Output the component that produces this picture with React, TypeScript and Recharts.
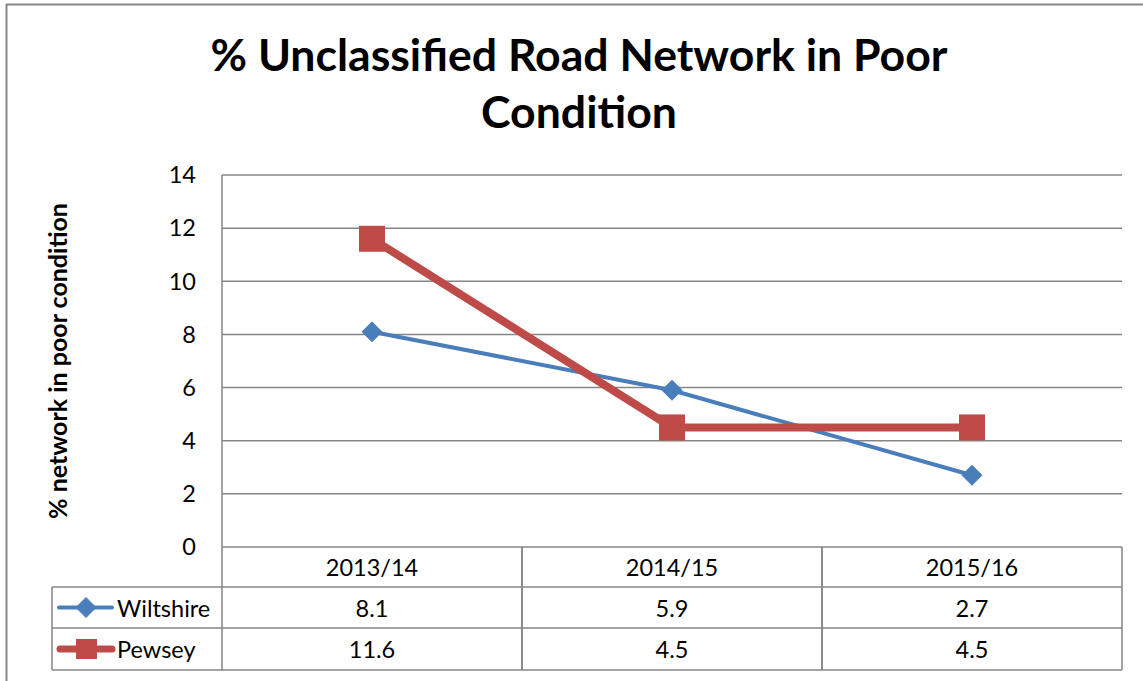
import React from "react";
import { LineChart, Line, XAxis, YAxis, CartesianGrid } from "recharts";

const categories = ["2013/14", "2014/15", "2015/16"];
const wiltshire = [8.1, 5.9, 2.7];
const pewsey = [11.6, 4.5, 4.5];
const yTicks = [0, 2, 4, 6, 8, 10, 12, 14];
const seriesNames = ["Wiltshire", "Pewsey"];
const titleLines = ["% Unclassified Road Network in Poor", "Condition"];
const yLabel = "% network in poor condition";

const data = categories.map((c, i) => ({ cat: c, wiltshire: wiltshire[i], pewsey: pewsey[i] }));

const W = 1143;
const H = 681;
const PLOT_L = 222;
const PLOT_R = 1122;
const PLOT_T = 175;
const PLOT_B = 547;
const COL_W = (PLOT_R - PLOT_L) / categories.length;
const ROW1 = 587;
const ROW2 = 628;
const ROW3 = 670;
const LEG_L = 52;
const FONT = "Lato, 'Open Sans', sans-serif";
const GRID = "#868686";
const BLUE = "#4A7EBB";
const RED = "#BE4B48";
const FS = 23.5;

const Diamond = (props: any) => {
  const { cx, cy } = props;
  if (cx == null || cy == null) return null;
  const r = 10;
  return (
    <polygon
      points={`${cx},${cy - r} ${cx + r},${cy} ${cx},${cy + r} ${cx - r},${cy}`}
      fill={BLUE}
      stroke={BLUE}
      strokeWidth={1}
    />
  );
};

const Square = (props: any) => {
  const { cx, cy } = props;
  if (cx == null || cy == null) return null;
  const s = 26;
  return <rect x={cx - s / 2} y={cy - s / 2} width={s} height={s} fill={RED} />;
};

const TableTick = (props: any) => {
  const { x, payload, index } = props;
  const i = payload?.index ?? index ?? 0;
  const left = x - COL_W / 2;
  const right = x + COL_W / 2;
  return (
    <g>
      <line x1={left} y1={PLOT_B} x2={left} y2={ROW3} stroke={GRID} strokeWidth={1.5} />
      <line x1={right} y1={PLOT_B} x2={right} y2={ROW3} stroke={GRID} strokeWidth={1.5} />
      <line x1={left} y1={ROW1} x2={right} y2={ROW1} stroke={GRID} strokeWidth={1.5} />
      <line x1={left} y1={ROW2} x2={right} y2={ROW2} stroke={GRID} strokeWidth={1.5} />
      <line x1={left} y1={ROW3} x2={right} y2={ROW3} stroke={GRID} strokeWidth={1.5} />
      <text x={x} y={(PLOT_B + ROW1) / 2} textAnchor="middle" dominantBaseline="central" fontSize={FS} fontFamily={FONT} fill="#000">
        {payload.value}
      </text>
      <text x={x} y={(ROW1 + ROW2) / 2} textAnchor="middle" dominantBaseline="central" fontSize={FS} fontFamily={FONT} fill="#000">
        {wiltshire[i]}
      </text>
      <text x={x} y={(ROW2 + ROW3) / 2} textAnchor="middle" dominantBaseline="central" fontSize={FS} fontFamily={FONT} fill="#000">
        {pewsey[i]}
      </text>
      {i === 0 && (
        <g>
          <line x1={LEG_L} y1={ROW1} x2={left} y2={ROW1} stroke={GRID} strokeWidth={1.5} />
          <line x1={LEG_L} y1={ROW2} x2={left} y2={ROW2} stroke={GRID} strokeWidth={1.5} />
          <line x1={LEG_L} y1={ROW3} x2={left} y2={ROW3} stroke={GRID} strokeWidth={1.5} />
          <line x1={LEG_L} y1={ROW1} x2={LEG_L} y2={ROW3} stroke={GRID} strokeWidth={1.5} />
          <line x1={59} y1={(ROW1 + ROW2) / 2} x2={112} y2={(ROW1 + ROW2) / 2} stroke={BLUE} strokeWidth={4} strokeLinecap="round" />
          <Diamond cx={86} cy={(ROW1 + ROW2) / 2} />
          <text x={117} y={(ROW1 + ROW2) / 2} dominantBaseline="central" fontSize={FS} fontFamily={FONT} fill="#000">
            {seriesNames[0]}
          </text>
          <line x1={60} y1={(ROW2 + ROW3) / 2} x2={112} y2={(ROW2 + ROW3) / 2} stroke={RED} strokeWidth={7} strokeLinecap="round" />
          <rect x={76} y={(ROW2 + ROW3) / 2 - 10} width={21} height={20} fill={RED} />
          <text x={117} y={(ROW2 + ROW3) / 2} dominantBaseline="central" fontSize={FS} fontFamily={FONT} fill="#000">
            {seriesNames[1]}
          </text>
        </g>
      )}
    </g>
  );
};

export default function App() {
  return (
    <div style={{ position: "absolute", left: 0, top: 0, width: W, height: H, background: "#fff" }}>
      <LineChart
        width={W}
        height={H}
        data={data}
        margin={{ top: PLOT_T, right: W - PLOT_R, bottom: 0, left: PLOT_L - 60 }}
      >
        <CartesianGrid horizontal vertical={false} stroke={GRID} strokeWidth={1.5} />
        <XAxis
          dataKey="cat"
          type="category"
          height={H - PLOT_B}
          padding={{ left: COL_W / 2, right: COL_W / 2 }}
          axisLine={false}
          tickLine={false}
          interval={0}
          tick={<TableTick />}
        />
        <YAxis
          width={60}
          domain={[0, 14]}
          ticks={yTicks}
          interval={0}
          axisLine={{ stroke: GRID, strokeWidth: 1.5 }}
          tickLine={false}
          tickSize={0}
          tickMargin={26}
          tick={{ fontSize: FS, fontFamily: FONT, fill: "#000" }}
        />
        <Line
          dataKey="wiltshire"
          stroke={BLUE}
          strokeWidth={4}
          dot={<Diamond />}
          activeDot={false}
          isAnimationActive={false}
        />
        <Line
          dataKey="pewsey"
          stroke={RED}
          strokeWidth={8}
          dot={<Square />}
          activeDot={false}
          isAnimationActive={false}
        />
      </LineChart>
      <svg
        width={W}
        height={H}
        style={{ position: "absolute", left: 0, top: 0, pointerEvents: "none" }}
      >
        <line x1={6} y1={4.5} x2={W} y2={4.5} stroke={GRID} strokeWidth={2} />
        <line x1={6.5} y1={4} x2={6.5} y2={H} stroke={GRID} strokeWidth={2} />
        <text x={579} y={71} textAnchor="middle" fontSize={44.6} fontWeight="bold" fontFamily={FONT} fill="#000">
          {titleLines[0]}
        </text>
        <text x={579} y={128} textAnchor="middle" fontSize={44.6} fontWeight="bold" fontFamily={FONT} fill="#000">
          {titleLines[1]}
        </text>
        <text
          x={0}
          y={0}
          transform={`translate(67, 361) rotate(-90)`}
          textAnchor="middle"
          fontSize={25}
          fontWeight="bold"
          fontFamily={FONT}
          fill="#000"
        >
          {yLabel}
        </text>
      </svg>
    </div>
  );
}
